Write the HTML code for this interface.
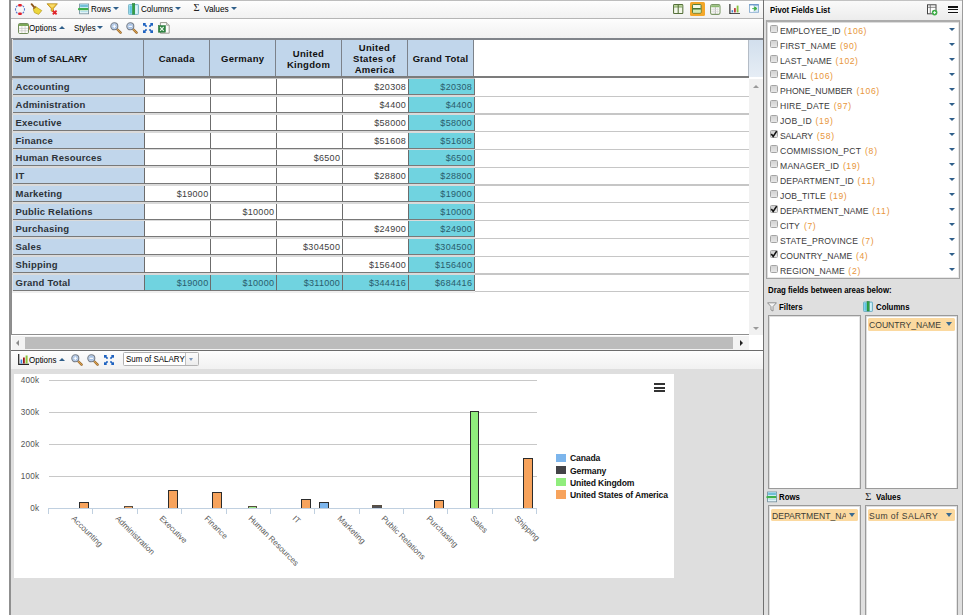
<!DOCTYPE html>
<html><head><meta charset="utf-8"><title>Pivot</title>
<style>
html,body{margin:0;padding:0;}
body{width:973px;height:615px;position:relative;overflow:hidden;background:#fff;font-family:"Liberation Sans",sans-serif;font-size:9px;color:#000;}
.a{position:absolute;}
.tb{position:absolute;left:11px;width:752px;background:linear-gradient(#fefefe 0,#fafafa 25%,#f1f1f1 100%);}
.t{position:absolute;font-size:9px;color:#000;white-space:nowrap;line-height:10px;transform:scaleX(.885);transform-origin:0 50%;}
.ad{position:absolute;width:0;height:0;border-left:3.2px solid transparent;border-right:3.2px solid transparent;border-top:3.6px solid #2f5f8a;}
.au{position:absolute;width:0;height:0;border-left:3.2px solid transparent;border-right:3.2px solid transparent;border-bottom:3.6px solid #2f5f8a;}
.hc{position:absolute;top:39.5px;height:37px;background:#c1d6eb;border-left:1.3px solid #7c828a;box-sizing:border-box;padding-top:1px;font-weight:bold;font-size:9.5px;display:flex;align-items:center;justify-content:center;text-align:center;line-height:11px;color:#111;letter-spacing:0.3px;}
.c{position:absolute;height:16px;box-sizing:border-box;border-left:1.3px solid #6c6c6c;border-bottom:1px solid #787878;background:#fff;font-size:9px;color:#404040;text-align:right;line-height:15px;padding-top:1px;padding-right:1.5px;letter-spacing:0.3px;}
.c.h{background:#c1d6eb;font-weight:bold;text-align:left;padding-left:2.7px;padding-top:0;line-height:15px;font-size:9.5px;color:#2c3238;border-left:none;letter-spacing:0.2px;}
.c.g{background:#70d3e0;color:#2a5c6c;}
.fl{position:absolute;left:780px;font-size:8.6px;color:#3a3a3a;white-space:nowrap;line-height:11px;}
.fl b{font-weight:normal;color:#e8963a;letter-spacing:0.45px;margin-left:1.2px;}
.cb{position:absolute;left:770px;width:7.7px;height:7.9px;box-sizing:border-box;border:1px solid #a4a4a4;background:linear-gradient(#d2d2d2,#e6e6e6);border-radius:1.5px;}
.lab{position:absolute;font-weight:bold;font-size:9px;color:#000;white-space:nowrap;line-height:10px;transform:scaleX(.87);transform-origin:0 50%;}
.box{position:absolute;background:#fff;border:1.2px solid #9a9a9a;box-sizing:border-box;box-shadow:inset 1px 1px 0 #dedede,inset -1px 0 0 #e6e6e6;}
.chip{position:absolute;background:#fbd9a0;height:12.3px;font-size:8.6px;color:#3c3c36;line-height:14.6px;border-radius:1.5px;white-space:nowrap;overflow:hidden;padding-left:1px;box-sizing:border-box;}
.yl{position:absolute;font-size:8.2px;color:#555;width:30px;text-align:right;line-height:10px;letter-spacing:0.2px;}
.xl{position:absolute;font-size:8.1px;color:#5a5a5a;white-space:nowrap;transform-origin:0 0;transform:rotate(45deg);line-height:10px;}
.lg{position:absolute;left:570px;font-size:8.6px;font-weight:bold;color:#111;white-space:nowrap;line-height:10px;letter-spacing:-0.15px;}
.ls{position:absolute;left:555.9px;width:10.1px;height:8.2px;}
</style></head><body>
<div class="a" style="left:9px;top:0;width:2px;height:615px;background:#8f8f8f;"></div>
<div class="a" style="left:11px;top:0;width:752px;height:1px;background:#bdbdbd;"></div>
<div class="tb" style="top:1px;height:17px;"></div>
<div class="a" style="left:11px;top:18px;width:752px;height:1px;background:#b5b5b5;"></div>
<div class="tb" style="top:19px;height:19px;"></div>
<div class="a" style="left:11px;top:38px;width:752px;height:1.7px;background:#80848a;"></div>
<svg class="a" style="left:14px;top:2.5px" width="12" height="13" viewBox="0 0 12 13"><path d="M3.6 2.6 A4.6 4.6 0 0 0 3.4 10.2" fill="none" stroke="#5878cc" stroke-width="1.1" stroke-dasharray="2.2 1.1"/><path d="M8.4 2.6 A4.6 4.6 0 0 1 8.6 10.2" fill="none" stroke="#5878cc" stroke-width="1.1" stroke-dasharray="2.2 1.1"/><rect x="4.1" y=".9" width="3.8" height="2.6" rx="1.1" fill="#e0202c"/><rect x="4.1" y="9.5" width="3.8" height="2.6" rx="1.1" fill="#e0202c"/></svg>
<svg class="a" style="left:30px;top:3px" width="13" height="12" viewBox="0 0 13 12"><path d="M1.6 1.2 L5 5.2" stroke="#8a5418" stroke-width="1.8" stroke-linecap="round"/><path d="M5.6 3.4 L3.2 6 L4.4 9.6 L8.6 11.4 L11.8 7.6 L8.6 5.6 Z" fill="#ecd63c" stroke="#b49a1c" stroke-width=".7"/><path d="M3.4 5.8 L6 3.8" stroke="#9a6a20" stroke-width="1.1"/></svg>
<svg class="a" style="left:46px;top:2.8px" width="13" height="13" viewBox="0 0 13 13"><path d="M1 .8 H11.4 L7.4 5.4 V9 L5.2 8 V5.4 Z" fill="#f2c234" stroke="#b08c24" stroke-width=".8"/><path d="M3 1.6 H9.4 L7 4.2 H5.4 Z" fill="#f8dc6c"/><path d="M6.8 7.6 L10.6 11.4 M10.6 7.6 L6.8 11.4" stroke="#e0242c" stroke-width="1.8"/></svg>
<svg class="a" style="left:78px;top:3px" width="12" height="12" viewBox="0 0 12 12"><rect x="1.6" y="1" width="9" height="9.8" fill="#f4fbfd" stroke="#6c8a98" stroke-width=".8"/><rect x="2" y="1.4" width="8.2" height="3" fill="#8cd8ee"/><rect x="2.4" y="2.6" width="7.4" height=".8" fill="#4c9ab4"/><rect x="0" y="5" width="10.4" height="2.3" rx=".8" fill="#3fb04c"/><rect x="2.4" y="8.4" width="7.4" height=".8" fill="#8cd0e0"/></svg>
<div class="t" style="left:91px;top:4px;">Rows</div><div class="ad" style="left:113px;top:7px"></div>
<svg class="a" style="left:128px;top:3px" width="11" height="12" viewBox="0 0 11 12"><rect x=".5" y="1.5" width="10" height="10" rx=".8" fill="#b4e6f2" stroke="#6cacc0" stroke-width=".8"/><rect x="1.6" y="2.6" width="2.2" height="8" fill="#5cc4e2"/><rect x="7.2" y="2.6" width="2.2" height="8" fill="#dcf4fa"/><rect x="4.4" y=".4" width="2.4" height="10.8" fill="#2fa244" stroke="#1e7030" stroke-width=".4"/></svg>
<div class="t" style="left:141.2px;top:4px;transform:scaleX(.9);">Columns</div><div class="ad" style="left:175.3px;top:7px"></div>
<div class="t" style="left:193.4px;top:3px;transform:none;color:#222;font-family:'Liberation Serif',serif;font-size:10.5px;">&Sigma;</div>
<div class="t" style="left:203.8px;top:4px;transform:scaleX(.92);">Values</div><div class="ad" style="left:231px;top:7px"></div>
<svg class="a" style="left:673.4px;top:3.8px" width="10.4" height="10.2" viewBox="0 0 11 11" preserveAspectRatio="none"><rect x=".6" y=".6" width="9.8" height="9.8" rx="1" fill="#f3f8ea" stroke="#55703a" stroke-width="1.1"/><rect x="1.2" y="1.2" width="8.6" height="2" fill="#b4d294"/><path d="M1 3.4 H10" stroke="#6d8c4e" stroke-width=".7"/><path d="M5.5 1 V10" stroke="#55703a" stroke-width="1.1"/></svg>
<div class="a" style="left:689.8px;top:2px;width:15.2px;height:13.5px;background:#f3a72a;border-radius:1.5px;"></div><svg class="a" style="left:692.2px;top:4.4px" width="9.6" height="9.6" viewBox="0 0 11 11" preserveAspectRatio="none"><rect x=".6" y=".6" width="9.8" height="9.8" rx=".8" fill="#f4fae8" stroke="#4e7a34" stroke-width="1.1"/><rect x="1.2" y="6.2" width="8.6" height="3.6" fill="#d4ecb4"/><path d="M1 5.5 H10" stroke="#3c6c28" stroke-width="1.7"/></svg>
<svg class="a" style="left:710.1px;top:3.5px" width="10.6" height="11" viewBox="0 0 11 11" preserveAspectRatio="none"><rect x=".6" y=".6" width="9.8" height="9.8" rx="1.6" fill="#fcfcf8" stroke="#7c9868" stroke-width="1.1"/><path d="M1.2 1.9 Q1.2 1.2 2 1.2 H9 Q9.8 1.2 9.8 1.9 V3.2 H1.2 Z" fill="#8cba70"/><path d="M5.5 3.2 V10 " stroke="#a8a8a8" stroke-width=".9"/><path d="M1.2 5.4 H9.8 M1.2 7.6 H9.8 M3.3 3.2 V10 M7.7 3.2 V10" stroke="#d8d8d8" stroke-width=".6"/></svg>
<svg class="a" style="left:728.8px;top:3.6px" width="11" height="10.6" viewBox="0 0 11 10.6"><path d="M.9 0 V9.9 H11" stroke="#1a1a1a" stroke-width="1.1" fill="none"/><rect x="2.6" y="6.2" width="1.5" height="2.2" fill="#3a82c8"/><rect x="5.1" y="4.1" width="1.6" height="4.3" fill="#b82424"/><rect x="7.7" y="1.6" width="1.8" height="6.8" fill="#86c440"/></svg>
<svg class="a" style="left:749.2px;top:4.2px" width="10" height="8.8" viewBox="0 0 10 8.8"><rect x=".5" y=".5" width="9" height="7.8" fill="#dcebf7" stroke="#8aaed0" stroke-width=".9"/><rect x=".5" y=".3" width="9" height="1.2" fill="#5f8fc8"/><rect x="1.2" y="1.6" width="3" height="6.2" fill="#fff"/><path d="M3.2 4.6 H6 M5.6 2.8 L8 4.6 L5.6 6.4 Z" fill="#3fae49" stroke="#3fae49" stroke-width=".9"/></svg>
<svg class="a" style="left:18px;top:23px" width="11" height="11" viewBox="0 0 11 11"><rect x=".5" y=".5" width="10" height="10" rx="1.2" fill="#fdfdf8" stroke="#62804a" stroke-width=".9"/><rect x="1" y="1" width="9" height="2" fill="#7ca858"/><path d="M3.9 3 V10 M7.1 3 V10 M1 5.4 H10 M1 7.8 H10" stroke="#bcbcbc" stroke-width=".6"/></svg>
<div class="t" style="left:29px;top:23px;">Options</div><div class="au" style="left:59px;top:26px"></div>
<div class="t" style="left:74px;top:23px;">Styles</div><div class="ad" style="left:97px;top:26px"></div>
<svg class="a" style="left:110.0px;top:22px" width="12" height="12" viewBox="0 0 12 12"><path d="M7.2 7.2 L10.6 10.6" stroke="#8a5a20" stroke-width="2.3" stroke-linecap="round"/><path d="M7.2 7.2 L10.6 10.6" stroke="#d8a050" stroke-width="1.3" stroke-linecap="round"/><circle cx="4.3" cy="4.3" r="3.5" fill="#c6d8ef" stroke="#767e8a" stroke-width="1.1"/><circle cx="4.3" cy="4.3" r="2.4" fill="#a4bfe3"/><path d="M2.5 4.3 H6.1 M4.3 2.5 V6.1" stroke="#fff" stroke-width="1.1"/></svg>
<svg class="a" style="left:126.0px;top:22px" width="12" height="12" viewBox="0 0 12 12"><path d="M7.2 7.2 L10.6 10.6" stroke="#8a5a20" stroke-width="2.3" stroke-linecap="round"/><path d="M7.2 7.2 L10.6 10.6" stroke="#d8a050" stroke-width="1.3" stroke-linecap="round"/><circle cx="4.3" cy="4.3" r="3.5" fill="#c6d8ef" stroke="#767e8a" stroke-width="1.1"/><circle cx="4.3" cy="4.3" r="2.4" fill="#a4bfe3"/><path d="M2.5 4.3 H6.1" stroke="#fff" stroke-width="1.2"/></svg>
<svg class="a" style="left:142.8px;top:23px" width="10" height="10" viewBox="0 0 10 10"><g fill="#1e62c0"><path d="M0 0 H3.2 L2.2 1 L4.2 3 L3 4.2 L1 2.2 L0 3.2 Z"/><path d="M0 0 H3.2 L2.2 1 L4.2 3 L3 4.2 L1 2.2 L0 3.2 Z" transform="translate(10,0) scale(-1,1)"/><path d="M0 0 H3.2 L2.2 1 L4.2 3 L3 4.2 L1 2.2 L0 3.2 Z" transform="translate(0,10) scale(1,-1)"/><path d="M0 0 H3.2 L2.2 1 L4.2 3 L3 4.2 L1 2.2 L0 3.2 Z" transform="translate(10,10) scale(-1,-1)"/></g></svg>
<svg class="a" style="left:157.8px;top:22px" width="12" height="12" viewBox="0 0 12 12"><path d="M2.4 .6 H8.6 L11.2 3.2 V11.2 H2.4 Z" fill="#fcfcfa" stroke="#8e8e86" stroke-width=".9"/><path d="M8.6 .6 V3.2 H11.2" fill="#e4e4dc" stroke="#8e8e86" stroke-width=".7"/><rect x=".4" y="3.6" width="7" height="6.6" fill="#2e8540" stroke="#1f6a30" stroke-width=".5"/><path d="M2.1 5 L5.7 8.8 M5.7 5 L2.1 8.8" stroke="#e8f4e8" stroke-width="1.1"/></svg>
<div class="a" style="left:11px;top:39px;width:1.3px;height:296px;background:#8c8c8c;"></div>
<div class="a" style="left:12.3px;top:39.2px;width:0.8px;height:253px;background:#e4e4e4;"></div>
<div class="hc" style="left:12.9px;width:130.2px;justify-content:flex-start;padding-left:1.7px;border-left:none;letter-spacing:-0.06px;">Sum of SALARY</div>
<div class="hc" style="left:143.1px;width:66.2px;">Canada</div>
<div class="hc" style="left:209.3px;width:65.9px;">Germany</div>
<div class="hc" style="left:275.2px;width:65.7px;">United<br>Kingdom</div>
<div class="hc" style="left:340.9px;width:66.1px;">United<br>States of<br>America</div>
<div class="hc" style="left:407.0px;width:66.2px;">Grand Total</div>
<div class="a" style="left:473.2px;top:39.5px;width:1.2px;height:37px;background:#7c828a;"></div>
<div class="a" style="left:748.3px;top:39.5px;width:14.7px;height:37px;background:linear-gradient(#d2dfed,#e6edf5);border-left:1px solid #b4bcc6;box-sizing:border-box;"></div>
<div class="a" style="left:12px;top:76.4px;width:737px;height:1.4px;background:#7c7c7c;"></div>
<div class="a" style="left:12px;top:77.8px;width:463px;height:1.8px;background:#c4c4c4;"></div>
<div class="a" style="left:12.3px;top:95.25px;width:462.6px;height:1.78px;background:#dadada;"></div>
<div class="c h" style="left:12.9px;top:79.25px;width:130.9px;">Accounting</div>
<div class="c" style="left:143.8px;top:79.25px;width:66.2px;"></div>
<div class="c" style="left:210.0px;top:79.25px;width:65.8px;"></div>
<div class="c" style="left:275.8px;top:79.25px;width:65.9px;"></div>
<div class="c" style="left:341.7px;top:79.25px;width:65.9px;">$20308</div>
<div class="c g" style="left:407.6px;top:79.25px;width:66.1px;">$20308</div>
<div class="a" style="left:473.7px;top:79.25px;width:1.2px;height:16px;background:#707070;"></div>
<div class="a" style="left:475px;top:95.55px;width:274px;height:1.2px;background:#c6c6c6;"></div>
<div class="a" style="left:12.3px;top:113.03px;width:462.6px;height:1.78px;background:#dadada;"></div>
<div class="c h" style="left:12.9px;top:97.03px;width:130.9px;">Administration</div>
<div class="c" style="left:143.8px;top:97.03px;width:66.2px;"></div>
<div class="c" style="left:210.0px;top:97.03px;width:65.8px;"></div>
<div class="c" style="left:275.8px;top:97.03px;width:65.9px;"></div>
<div class="c" style="left:341.7px;top:97.03px;width:65.9px;">$4400</div>
<div class="c g" style="left:407.6px;top:97.03px;width:66.1px;">$4400</div>
<div class="a" style="left:473.7px;top:97.03px;width:1.2px;height:16px;background:#707070;"></div>
<div class="a" style="left:475px;top:113.33px;width:274px;height:1.2px;background:#c6c6c6;"></div>
<div class="a" style="left:12.3px;top:130.81px;width:462.6px;height:1.78px;background:#dadada;"></div>
<div class="c h" style="left:12.9px;top:114.81px;width:130.9px;">Executive</div>
<div class="c" style="left:143.8px;top:114.81px;width:66.2px;"></div>
<div class="c" style="left:210.0px;top:114.81px;width:65.8px;"></div>
<div class="c" style="left:275.8px;top:114.81px;width:65.9px;"></div>
<div class="c" style="left:341.7px;top:114.81px;width:65.9px;">$58000</div>
<div class="c g" style="left:407.6px;top:114.81px;width:66.1px;">$58000</div>
<div class="a" style="left:473.7px;top:114.81px;width:1.2px;height:16px;background:#707070;"></div>
<div class="a" style="left:475px;top:131.11px;width:274px;height:1.2px;background:#c6c6c6;"></div>
<div class="a" style="left:12.3px;top:148.59px;width:462.6px;height:1.78px;background:#dadada;"></div>
<div class="c h" style="left:12.9px;top:132.59px;width:130.9px;">Finance</div>
<div class="c" style="left:143.8px;top:132.59px;width:66.2px;"></div>
<div class="c" style="left:210.0px;top:132.59px;width:65.8px;"></div>
<div class="c" style="left:275.8px;top:132.59px;width:65.9px;"></div>
<div class="c" style="left:341.7px;top:132.59px;width:65.9px;">$51608</div>
<div class="c g" style="left:407.6px;top:132.59px;width:66.1px;">$51608</div>
<div class="a" style="left:473.7px;top:132.59px;width:1.2px;height:16px;background:#707070;"></div>
<div class="a" style="left:475px;top:148.89px;width:274px;height:1.2px;background:#c6c6c6;"></div>
<div class="a" style="left:12.3px;top:166.37px;width:462.6px;height:1.78px;background:#dadada;"></div>
<div class="c h" style="left:12.9px;top:150.37px;width:130.9px;">Human Resources</div>
<div class="c" style="left:143.8px;top:150.37px;width:66.2px;"></div>
<div class="c" style="left:210.0px;top:150.37px;width:65.8px;"></div>
<div class="c" style="left:275.8px;top:150.37px;width:65.9px;">$6500</div>
<div class="c" style="left:341.7px;top:150.37px;width:65.9px;"></div>
<div class="c g" style="left:407.6px;top:150.37px;width:66.1px;">$6500</div>
<div class="a" style="left:473.7px;top:150.37px;width:1.2px;height:16px;background:#707070;"></div>
<div class="a" style="left:475px;top:166.67px;width:274px;height:1.2px;background:#c6c6c6;"></div>
<div class="a" style="left:12.3px;top:184.15px;width:462.6px;height:1.78px;background:#dadada;"></div>
<div class="c h" style="left:12.9px;top:168.15px;width:130.9px;">IT</div>
<div class="c" style="left:143.8px;top:168.15px;width:66.2px;"></div>
<div class="c" style="left:210.0px;top:168.15px;width:65.8px;"></div>
<div class="c" style="left:275.8px;top:168.15px;width:65.9px;"></div>
<div class="c" style="left:341.7px;top:168.15px;width:65.9px;">$28800</div>
<div class="c g" style="left:407.6px;top:168.15px;width:66.1px;">$28800</div>
<div class="a" style="left:473.7px;top:168.15px;width:1.2px;height:16px;background:#707070;"></div>
<div class="a" style="left:475px;top:184.45px;width:274px;height:1.2px;background:#c6c6c6;"></div>
<div class="a" style="left:12.3px;top:201.93px;width:462.6px;height:1.78px;background:#dadada;"></div>
<div class="c h" style="left:12.9px;top:185.93px;width:130.9px;">Marketing</div>
<div class="c" style="left:143.8px;top:185.93px;width:66.2px;">$19000</div>
<div class="c" style="left:210.0px;top:185.93px;width:65.8px;"></div>
<div class="c" style="left:275.8px;top:185.93px;width:65.9px;"></div>
<div class="c" style="left:341.7px;top:185.93px;width:65.9px;"></div>
<div class="c g" style="left:407.6px;top:185.93px;width:66.1px;">$19000</div>
<div class="a" style="left:473.7px;top:185.93px;width:1.2px;height:16px;background:#707070;"></div>
<div class="a" style="left:475px;top:202.23px;width:274px;height:1.2px;background:#c6c6c6;"></div>
<div class="a" style="left:12.3px;top:219.71px;width:462.6px;height:1.78px;background:#dadada;"></div>
<div class="c h" style="left:12.9px;top:203.71px;width:130.9px;">Public Relations</div>
<div class="c" style="left:143.8px;top:203.71px;width:66.2px;"></div>
<div class="c" style="left:210.0px;top:203.71px;width:65.8px;">$10000</div>
<div class="c" style="left:275.8px;top:203.71px;width:65.9px;"></div>
<div class="c" style="left:341.7px;top:203.71px;width:65.9px;"></div>
<div class="c g" style="left:407.6px;top:203.71px;width:66.1px;">$10000</div>
<div class="a" style="left:473.7px;top:203.71px;width:1.2px;height:16px;background:#707070;"></div>
<div class="a" style="left:475px;top:220.01px;width:274px;height:1.2px;background:#c6c6c6;"></div>
<div class="a" style="left:12.3px;top:237.49px;width:462.6px;height:1.78px;background:#dadada;"></div>
<div class="c h" style="left:12.9px;top:221.49px;width:130.9px;">Purchasing</div>
<div class="c" style="left:143.8px;top:221.49px;width:66.2px;"></div>
<div class="c" style="left:210.0px;top:221.49px;width:65.8px;"></div>
<div class="c" style="left:275.8px;top:221.49px;width:65.9px;"></div>
<div class="c" style="left:341.7px;top:221.49px;width:65.9px;">$24900</div>
<div class="c g" style="left:407.6px;top:221.49px;width:66.1px;">$24900</div>
<div class="a" style="left:473.7px;top:221.49px;width:1.2px;height:16px;background:#707070;"></div>
<div class="a" style="left:475px;top:237.79px;width:274px;height:1.2px;background:#c6c6c6;"></div>
<div class="a" style="left:12.3px;top:255.27px;width:462.6px;height:1.78px;background:#dadada;"></div>
<div class="c h" style="left:12.9px;top:239.27px;width:130.9px;">Sales</div>
<div class="c" style="left:143.8px;top:239.27px;width:66.2px;"></div>
<div class="c" style="left:210.0px;top:239.27px;width:65.8px;"></div>
<div class="c" style="left:275.8px;top:239.27px;width:65.9px;">$304500</div>
<div class="c" style="left:341.7px;top:239.27px;width:65.9px;"></div>
<div class="c g" style="left:407.6px;top:239.27px;width:66.1px;">$304500</div>
<div class="a" style="left:473.7px;top:239.27px;width:1.2px;height:16px;background:#707070;"></div>
<div class="a" style="left:475px;top:255.57px;width:274px;height:1.2px;background:#c6c6c6;"></div>
<div class="a" style="left:12.3px;top:273.05px;width:462.6px;height:1.78px;background:#dadada;"></div>
<div class="c h" style="left:12.9px;top:257.05px;width:130.9px;">Shipping</div>
<div class="c" style="left:143.8px;top:257.05px;width:66.2px;"></div>
<div class="c" style="left:210.0px;top:257.05px;width:65.8px;"></div>
<div class="c" style="left:275.8px;top:257.05px;width:65.9px;"></div>
<div class="c" style="left:341.7px;top:257.05px;width:65.9px;">$156400</div>
<div class="c g" style="left:407.6px;top:257.05px;width:66.1px;">$156400</div>
<div class="a" style="left:473.7px;top:257.05px;width:1.2px;height:16px;background:#707070;"></div>
<div class="a" style="left:475px;top:273.35px;width:274px;height:1.2px;background:#c6c6c6;"></div>
<div class="a" style="left:12.3px;top:290.83px;width:462.6px;height:1.78px;background:#efefef;"></div>
<div class="c h" style="left:12.9px;top:274.83px;width:130.9px;">Grand Total</div>
<div class="c g" style="left:143.8px;top:274.83px;width:66.2px;">$19000</div>
<div class="c g" style="left:210.0px;top:274.83px;width:65.8px;">$10000</div>
<div class="c g" style="left:275.8px;top:274.83px;width:65.9px;">$311000</div>
<div class="c g" style="left:341.7px;top:274.83px;width:65.9px;">$344416</div>
<div class="c g" style="left:407.6px;top:274.83px;width:66.1px;">$684416</div>
<div class="a" style="left:473.7px;top:274.83px;width:1.2px;height:16px;background:#707070;"></div>
<div class="a" style="left:475px;top:291.13px;width:274px;height:1.2px;background:#c6c6c6;"></div>
<div class="a" style="left:749px;top:79px;width:14px;height:256px;background:#f1f1f1;"></div>
<div class="a" style="left:753px;top:85px;width:0;height:0;border-left:3px solid transparent;border-right:3px solid transparent;border-bottom:3.5px solid #9a9a9a;"></div>
<div class="a" style="left:753px;top:327px;width:0;height:0;border-left:3px solid transparent;border-right:3px solid transparent;border-top:3.5px solid #9a9a9a;"></div>
<div class="a" style="left:11px;top:334px;width:738px;height:1px;background:#8f8f8f;"></div>
<div class="a" style="left:12px;top:335.6px;width:737px;height:14px;background:#f3f3f3;"></div>
<div class="a" style="left:25px;top:337.3px;width:707.7px;height:11.4px;background:#bcbcbc;"></div>
<div class="a" style="left:16px;top:340px;width:0;height:0;border-top:3px solid transparent;border-bottom:3px solid transparent;border-right:3.5px solid #8a8a8a;"></div>
<div class="a" style="left:740px;top:340px;width:0;height:0;border-top:3px solid transparent;border-bottom:3px solid transparent;border-left:3.5px solid #222;"></div>
<div class="a" style="left:749px;top:336px;width:14px;height:13px;background:#fff;"></div>
<div class="a" style="left:11px;top:349.7px;width:752px;height:1.4px;background:#6c6c6c;"></div>
<div class="tb" style="top:351px;height:18px;"></div>
<svg class="a" style="left:18px;top:354px" width="11" height="11" viewBox="0 0 11 11"><path d="M.7 0 V10.3 H11" stroke="#222" stroke-width="1.2" fill="none"/><rect x="2.6" y="5.5" width="1.6" height="4" fill="#3a8ee0"/><rect x="5" y="3.5" width="1.8" height="6" fill="#a01818"/><rect x="7.6" y="1.5" width="2" height="8" fill="#8cc63f"/></svg>
<div class="t" style="left:29px;top:355px;">Options</div><div class="au" style="left:59px;top:358px"></div>
<svg class="a" style="left:71.0px;top:354px" width="12" height="12" viewBox="0 0 12 12"><path d="M7.2 7.2 L10.6 10.6" stroke="#8a5a20" stroke-width="2.3" stroke-linecap="round"/><path d="M7.2 7.2 L10.6 10.6" stroke="#d8a050" stroke-width="1.3" stroke-linecap="round"/><circle cx="4.3" cy="4.3" r="3.5" fill="#c6d8ef" stroke="#767e8a" stroke-width="1.1"/><circle cx="4.3" cy="4.3" r="2.4" fill="#a4bfe3"/><path d="M2.5 4.3 H6.1 M4.3 2.5 V6.1" stroke="#fff" stroke-width="1.1"/></svg>
<svg class="a" style="left:87.0px;top:354px" width="12" height="12" viewBox="0 0 12 12"><path d="M7.2 7.2 L10.6 10.6" stroke="#8a5a20" stroke-width="2.3" stroke-linecap="round"/><path d="M7.2 7.2 L10.6 10.6" stroke="#d8a050" stroke-width="1.3" stroke-linecap="round"/><circle cx="4.3" cy="4.3" r="3.5" fill="#c6d8ef" stroke="#767e8a" stroke-width="1.1"/><circle cx="4.3" cy="4.3" r="2.4" fill="#a4bfe3"/><path d="M2.5 4.3 H6.1" stroke="#fff" stroke-width="1.2"/></svg>
<svg class="a" style="left:103.5px;top:355px" width="10" height="10" viewBox="0 0 10 10"><g fill="#1e62c0"><path d="M0 0 H3.2 L2.2 1 L4.2 3 L3 4.2 L1 2.2 L0 3.2 Z"/><path d="M0 0 H3.2 L2.2 1 L4.2 3 L3 4.2 L1 2.2 L0 3.2 Z" transform="translate(10,0) scale(-1,1)"/><path d="M0 0 H3.2 L2.2 1 L4.2 3 L3 4.2 L1 2.2 L0 3.2 Z" transform="translate(0,10) scale(1,-1)"/><path d="M0 0 H3.2 L2.2 1 L4.2 3 L3 4.2 L1 2.2 L0 3.2 Z" transform="translate(10,10) scale(-1,-1)"/></g></svg>
<div class="a" style="left:123px;top:352.4px;width:75.6px;height:13.6px;background:#fff;border:1px solid #b2b2b2;box-sizing:border-box;border-radius:1.5px;"></div>
<div class="a" style="left:185.4px;top:353.4px;width:12.2px;height:11.6px;background:linear-gradient(#fdfdfd,#ececec);border-left:1px solid #c0c0c0;box-sizing:border-box;"></div>
<div class="a" style="left:189.4px;top:358.2px;width:0;height:0;border-left:2.6px solid transparent;border-right:2.6px solid transparent;border-top:3px solid #7c98bc;"></div>
<div class="t" style="left:126px;top:354px;">Sum of SALARY</div>
<div class="a" style="left:11px;top:369px;width:752px;height:246px;background:#dedede;"></div>
<div class="a" style="left:14px;top:374px;width:660px;height:204px;background:#fff;"></div>
<div class="a" style="left:49.0px;top:380px;width:488.0px;height:1px;background:#c8c8c8;"></div>
<div class="yl" style="left:9.3px;top:376.2px;">400k</div>
<div class="a" style="left:49.0px;top:412px;width:488.0px;height:1px;background:#c8c8c8;"></div>
<div class="yl" style="left:9.3px;top:408.2px;">300k</div>
<div class="a" style="left:49.0px;top:444px;width:488.0px;height:1px;background:#c8c8c8;"></div>
<div class="yl" style="left:9.3px;top:440.2px;">200k</div>
<div class="a" style="left:49.0px;top:476px;width:488.0px;height:1px;background:#c8c8c8;"></div>
<div class="yl" style="left:9.3px;top:472.2px;">100k</div>
<div class="a" style="left:48.3px;top:508px;width:488.6px;height:1px;background:#c0d0e0;"></div>
<div class="yl" style="left:9.3px;top:504.2px;">0k</div>
<div class="a" style="left:47.9px;top:508px;width:1px;height:6.3px;background:#c0d0e0;"></div>
<div class="a" style="left:92.3px;top:508px;width:1px;height:6.3px;background:#c0d0e0;"></div>
<div class="a" style="left:136.7px;top:508px;width:1px;height:6.3px;background:#c0d0e0;"></div>
<div class="a" style="left:181.1px;top:508px;width:1px;height:6.3px;background:#c0d0e0;"></div>
<div class="a" style="left:225.5px;top:508px;width:1px;height:6.3px;background:#c0d0e0;"></div>
<div class="a" style="left:269.9px;top:508px;width:1px;height:6.3px;background:#c0d0e0;"></div>
<div class="a" style="left:314.2px;top:508px;width:1px;height:6.3px;background:#c0d0e0;"></div>
<div class="a" style="left:358.6px;top:508px;width:1px;height:6.3px;background:#c0d0e0;"></div>
<div class="a" style="left:403.0px;top:508px;width:1px;height:6.3px;background:#c0d0e0;"></div>
<div class="a" style="left:447.4px;top:508px;width:1px;height:6.3px;background:#c0d0e0;"></div>
<div class="a" style="left:491.8px;top:508px;width:1px;height:6.3px;background:#c0d0e0;"></div>
<div class="a" style="left:536.2px;top:508px;width:1px;height:6.3px;background:#c0d0e0;"></div>
<div class="a" style="left:79.1px;top:501.9px;width:9.7px;height:6.5px;background:#f7a35c;border:1px solid #2c2c2c;border-bottom:none;box-sizing:border-box;"></div>
<div class="a" style="left:123.5px;top:506.3px;width:9.6px;height:1.9px;background:#f7a35c;border:0.6px solid #4a4030;border-bottom:none;box-sizing:border-box;opacity:.92;"></div>
<div class="a" style="left:167.9px;top:489.8px;width:9.7px;height:18.6px;background:#f7a35c;border:1px solid #2c2c2c;border-bottom:none;box-sizing:border-box;"></div>
<div class="a" style="left:212.3px;top:491.9px;width:9.7px;height:16.5px;background:#f7a35c;border:1px solid #2c2c2c;border-bottom:none;box-sizing:border-box;"></div>
<div class="a" style="left:247.9px;top:506.1px;width:9.6px;height:2.1px;background:#90ed7d;border:0.6px solid #4a4030;border-bottom:none;box-sizing:border-box;opacity:.92;"></div>
<div class="a" style="left:301.1px;top:499.2px;width:9.7px;height:9.2px;background:#f7a35c;border:1px solid #2c2c2c;border-bottom:none;box-sizing:border-box;"></div>
<div class="a" style="left:318.9px;top:502.3px;width:9.7px;height:6.1px;background:#7cb5ec;border:1px solid #2c2c2c;border-bottom:none;box-sizing:border-box;"></div>
<div class="a" style="left:372.2px;top:505.0px;width:9.6px;height:3.2px;background:#434348;border:0.6px solid #4a4030;border-bottom:none;box-sizing:border-box;opacity:.92;"></div>
<div class="a" style="left:434.3px;top:500.4px;width:9.7px;height:8.0px;background:#f7a35c;border:1px solid #2c2c2c;border-bottom:none;box-sizing:border-box;"></div>
<div class="a" style="left:469.8px;top:411.0px;width:9.7px;height:97.4px;background:#90ed7d;border:1px solid #2c2c2c;border-bottom:none;box-sizing:border-box;"></div>
<div class="a" style="left:523.0px;top:458.4px;width:9.7px;height:50.0px;background:#f7a35c;border:1px solid #2c2c2c;border-bottom:none;box-sizing:border-box;"></div>
<div class="xl" style="left:75.5px;top:514.2px;">Accounting</div>
<div class="xl" style="left:119.9px;top:514.2px;">Administration</div>
<div class="xl" style="left:164.3px;top:514.2px;">Executive</div>
<div class="xl" style="left:208.7px;top:514.2px;">Finance</div>
<div class="xl" style="left:253.1px;top:514.2px;">Human Resources</div>
<div class="xl" style="left:297.4px;top:514.2px;">IT</div>
<div class="xl" style="left:341.8px;top:514.2px;">Marketing</div>
<div class="xl" style="left:386.2px;top:514.2px;">Public Relations</div>
<div class="xl" style="left:430.6px;top:514.2px;">Purchasing</div>
<div class="xl" style="left:475.0px;top:514.2px;">Sales</div>
<div class="xl" style="left:519.4px;top:514.2px;">Shipping</div>
<div class="ls" style="top:453.8px;background:#7cb5ec;"></div>
<div class="lg" style="top:453.3px;">Canada</div>
<div class="ls" style="top:466.0px;background:#434348;"></div>
<div class="lg" style="top:465.5px;">Germany</div>
<div class="ls" style="top:478.2px;background:#90ed7d;"></div>
<div class="lg" style="top:477.7px;">United Kingdom</div>
<div class="ls" style="top:490.4px;background:#f7a35c;"></div>
<div class="lg" style="top:489.9px;">United States of America</div>
<div class="a" style="left:654px;top:383.3px;width:11px;height:2px;background:#333;"></div><div class="a" style="left:654px;top:386.8px;width:11px;height:2px;background:#333;"></div><div class="a" style="left:654px;top:390.3px;width:11px;height:2px;background:#333;"></div>
<div class="a" style="left:762.8px;top:0;width:1.4px;height:615px;background:#707070;"></div>
<div class="a" style="left:764.2px;top:0;width:197.4px;height:615px;background:#dfdfdf;"></div>
<div class="a" style="left:764.2px;top:0;width:197.4px;height:20.4px;background:linear-gradient(#fafafa,#ececec);border-top:1px solid #c2c2c2;box-sizing:border-box;"></div>
<div class="a" style="left:961.6px;top:0;width:1.3px;height:615px;background:#9c9c9c;"></div>
<div class="lab" style="left:770px;top:5px;">Pivot Fields List</div>
<svg class="a" style="left:926px;top:4px" width="12" height="12" viewBox="0 0 12 12"><rect x="1.5" y=".8" width="8.5" height="9" fill="#fff" stroke="#444" stroke-width="1"/><path d="M1.5 3.3 H10 M4.3 1 V9.5" stroke="#666" stroke-width=".8"/><circle cx="8.6" cy="8.6" r="2.8" fill="#3fae49"/><path d="M7.2 8.6 H10 M8.6 7.2 V10" stroke="#fff" stroke-width=".9"/></svg>
<div class="a" style="left:947.6px;top:5px;width:11px;height:9px;background:#f8f8f8;border-radius:1px;"></div><div class="a" style="left:948.4px;top:6.1px;width:9.7px;height:1.6px;background:#111;"></div><div class="a" style="left:948.4px;top:8.9px;width:9.7px;height:1.5px;background:#111;"></div><div class="a" style="left:948.4px;top:11.6px;width:9.7px;height:1.4px;background:#111;"></div>
<div class="box" style="left:766px;top:20.4px;width:194px;height:258.8px;border:1.5px solid #a4a4a4;border-top:2px solid #acacac;box-shadow:inset 1px 1px 0 #dcdcdc,inset -1px -1px 0 #e8e8e8;"></div>
<div class="cb" style="top:25.0px;"></div>
<div class="fl" style="top:25.6px;letter-spacing:-0.02px;">EMPLOYEE_ID</div>
<div class="fl" style="left:844.1px;top:25.6px;letter-spacing:0.58px;color:#e8963a;">(106)</div>
<div class="ad" style="left:948.5px;top:28.2px;border-left-width:3.3px;border-right-width:3.3px;border-top-width:3.6px;"></div>
<div class="cb" style="top:40.0px;"></div>
<div class="fl" style="top:40.6px;letter-spacing:0.16px;">FIRST_NAME</div>
<div class="fl" style="left:840.0px;top:40.6px;letter-spacing:0.65px;color:#e8963a;">(90)</div>
<div class="ad" style="left:948.5px;top:43.2px;border-left-width:3.3px;border-right-width:3.3px;border-top-width:3.6px;"></div>
<div class="cb" style="top:55.0px;"></div>
<div class="fl" style="top:55.6px;letter-spacing:0.09px;">LAST_NAME</div>
<div class="fl" style="left:835.6px;top:55.6px;letter-spacing:0.58px;color:#e8963a;">(102)</div>
<div class="ad" style="left:948.5px;top:58.2px;border-left-width:3.3px;border-right-width:3.3px;border-top-width:3.6px;"></div>
<div class="cb" style="top:70.0px;"></div>
<div class="fl" style="top:70.6px;letter-spacing:0.11px;">EMAIL</div>
<div class="fl" style="left:810.5px;top:70.6px;letter-spacing:0.58px;color:#e8963a;">(106)</div>
<div class="ad" style="left:948.5px;top:73.2px;border-left-width:3.3px;border-right-width:3.3px;border-top-width:3.6px;"></div>
<div class="cb" style="top:85.0px;"></div>
<div class="fl" style="top:85.6px;letter-spacing:0.00px;">PHONE_NUMBER</div>
<div class="fl" style="left:856.6px;top:85.6px;letter-spacing:0.63px;color:#e8963a;">(106)</div>
<div class="ad" style="left:948.5px;top:88.2px;border-left-width:3.3px;border-right-width:3.3px;border-top-width:3.6px;"></div>
<div class="cb" style="top:100.0px;"></div>
<div class="fl" style="top:100.6px;letter-spacing:0.26px;">HIRE_DATE</div>
<div class="fl" style="left:833.7px;top:100.6px;letter-spacing:0.72px;color:#e8963a;">(97)</div>
<div class="ad" style="left:948.5px;top:103.2px;border-left-width:3.3px;border-right-width:3.3px;border-top-width:3.6px;"></div>
<div class="cb" style="top:115.0px;"></div>
<div class="fl" style="top:115.6px;letter-spacing:0.31px;">JOB_ID</div>
<div class="fl" style="left:815.6px;top:115.6px;letter-spacing:0.65px;color:#e8963a;">(19)</div>
<div class="ad" style="left:948.5px;top:118.2px;border-left-width:3.3px;border-right-width:3.3px;border-top-width:3.6px;"></div>
<div class="cb" style="top:130.0px;"></div>
<svg class="a" style="left:770px;top:129.0px" width="9" height="9" viewBox="0 0 9 9"><path d="M1.3 4.9 L3.2 7.4 L6.7 2.1" stroke="#111" stroke-width="1.6" fill="none"/></svg>
<div class="fl" style="top:130.6px;letter-spacing:-0.14px;">SALARY</div>
<div class="fl" style="left:816.8px;top:130.6px;letter-spacing:0.65px;color:#e8963a;">(58)</div>
<div class="ad" style="left:948.5px;top:133.2px;border-left-width:3.3px;border-right-width:3.3px;border-top-width:3.6px;"></div>
<div class="cb" style="top:145.0px;"></div>
<div class="fl" style="top:145.6px;letter-spacing:0.20px;">COMMISSION_PCT</div>
<div class="fl" style="left:864.9px;top:145.6px;letter-spacing:0.87px;color:#e8963a;">(8)</div>
<div class="ad" style="left:948.5px;top:148.2px;border-left-width:3.3px;border-right-width:3.3px;border-top-width:3.6px;"></div>
<div class="cb" style="top:160.0px;"></div>
<div class="fl" style="top:160.6px;letter-spacing:0.24px;">MANAGER_ID</div>
<div class="fl" style="left:842.9px;top:160.6px;letter-spacing:0.58px;color:#e8963a;">(19)</div>
<div class="ad" style="left:948.5px;top:163.2px;border-left-width:3.3px;border-right-width:3.3px;border-top-width:3.6px;"></div>
<div class="cb" style="top:175.0px;"></div>
<div class="fl" style="top:175.6px;letter-spacing:0.16px;">DEPARTMENT_ID</div>
<div class="fl" style="left:857.6px;top:175.6px;letter-spacing:0.90px;color:#e8963a;">(11)</div>
<div class="ad" style="left:948.5px;top:178.2px;border-left-width:3.3px;border-right-width:3.3px;border-top-width:3.6px;"></div>
<div class="cb" style="top:190.0px;"></div>
<div class="fl" style="top:190.6px;letter-spacing:0.10px;">JOB_TITLE</div>
<div class="fl" style="left:829.5px;top:190.6px;letter-spacing:0.65px;color:#e8963a;">(19)</div>
<div class="ad" style="left:948.5px;top:193.2px;border-left-width:3.3px;border-right-width:3.3px;border-top-width:3.6px;"></div>
<div class="cb" style="top:205.0px;"></div>
<svg class="a" style="left:770px;top:204.0px" width="9" height="9" viewBox="0 0 9 9"><path d="M1.3 4.9 L3.2 7.4 L6.7 2.1" stroke="#111" stroke-width="1.6" fill="none"/></svg>
<div class="fl" style="top:205.6px;letter-spacing:0.03px;">DEPARTMENT_NAME</div>
<div class="fl" style="left:872.2px;top:205.6px;letter-spacing:0.90px;color:#e8963a;">(11)</div>
<div class="ad" style="left:948.5px;top:208.2px;border-left-width:3.3px;border-right-width:3.3px;border-top-width:3.6px;"></div>
<div class="cb" style="top:220.0px;"></div>
<div class="fl" style="top:220.6px;letter-spacing:0.04px;">CITY</div>
<div class="fl" style="left:803.9px;top:220.6px;letter-spacing:0.67px;color:#e8963a;">(7)</div>
<div class="ad" style="left:948.5px;top:223.2px;border-left-width:3.3px;border-right-width:3.3px;border-top-width:3.6px;"></div>
<div class="cb" style="top:235.0px;"></div>
<div class="fl" style="top:235.6px;letter-spacing:0.14px;">STATE_PROVINCE</div>
<div class="fl" style="left:861.7px;top:235.6px;letter-spacing:0.77px;color:#e8963a;">(7)</div>
<div class="ad" style="left:948.5px;top:238.2px;border-left-width:3.3px;border-right-width:3.3px;border-top-width:3.6px;"></div>
<div class="cb" style="top:250.0px;"></div>
<svg class="a" style="left:770px;top:249.0px" width="9" height="9" viewBox="0 0 9 9"><path d="M1.3 4.9 L3.2 7.4 L6.7 2.1" stroke="#111" stroke-width="1.6" fill="none"/></svg>
<div class="fl" style="top:250.6px;letter-spacing:0.02px;">COUNTRY_NAME</div>
<div class="fl" style="left:855.9px;top:250.6px;letter-spacing:0.67px;color:#e8963a;">(4)</div>
<div class="ad" style="left:948.5px;top:253.2px;border-left-width:3.3px;border-right-width:3.3px;border-top-width:3.6px;"></div>
<div class="cb" style="top:265.0px;"></div>
<div class="fl" style="top:265.6px;letter-spacing:0.12px;">REGION_NAME</div>
<div class="fl" style="left:848.3px;top:265.6px;letter-spacing:0.77px;color:#e8963a;">(2)</div>
<div class="ad" style="left:948.5px;top:268.2px;border-left-width:3.3px;border-right-width:3.3px;border-top-width:3.6px;"></div>
<div class="lab" style="left:768px;top:285px;">Drag fields between areas below:</div>
<svg class="a" style="left:767px;top:302px" width="10" height="10" viewBox="0 0 10 10"><path d="M.6 .8 H9.4 L6 4.6 V9 L4 8 V4.6 Z" fill="#f4f4f4" stroke="#888" stroke-width=".9"/></svg>
<div class="lab" style="left:779px;top:301.8px;">Filters</div>
<svg class="a" style="left:863px;top:301px" width="10" height="11" viewBox="0 0 10 11"><rect x=".5" y="1" width="9" height="9.5" rx=".8" fill="#a4e0f0" stroke="#62a6bc" stroke-width=".8"/><rect x="1.5" y="2" width="2" height="7.6" fill="#5cc4e2"/><rect x="6.6" y="2" width="2" height="7.6" fill="#d4f2fa"/><rect x="4" y=".4" width="2.2" height="9.6" fill="#2fa244" stroke="#1e7030" stroke-width=".4"/></svg>
<div class="lab" style="left:876px;top:301.8px;">Columns</div>
<div class="box" style="left:768px;top:315px;width:93px;height:174px;"></div>
<div class="box" style="left:865px;top:315px;width:93px;height:174px;"></div>
<div class="chip" style="left:868px;top:318.3px;width:86.6px;">COUNTRY_NAME</div><div class="ad" style="left:945.9px;top:322.2px;border-width:4px 3.2px 0 3.2px;border-top-color:#3a6a90;"></div>
<svg class="a" style="left:765.6px;top:491.4px" width="12" height="12" viewBox="0 0 12 12"><rect x="1.6" y="1" width="9" height="9.8" fill="#f4fbfd" stroke="#6c8a98" stroke-width=".8"/><rect x="2" y="1.4" width="8.2" height="3" fill="#8cd8ee"/><rect x="2.4" y="2.6" width="7.4" height=".8" fill="#4c9ab4"/><rect x=".4" y="5" width="10" height="2.3" rx=".8" fill="#3fb04c"/><rect x="2.4" y="8.4" width="7.4" height=".8" fill="#8cd0e0"/></svg>
<div class="lab" style="left:779px;top:492px;">Rows</div>
<div class="t" style="left:865.3px;top:491.5px;transform:none;color:#2a2a2a;font-family:'Liberation Serif',serif;font-size:10.5px;">&Sigma;</div>
<div class="lab" style="left:876px;top:492px;">Values</div>
<div class="box" style="left:768px;top:505px;width:93px;height:120px;"></div>
<div class="box" style="left:865px;top:505px;width:93px;height:120px;"></div>
<div class="chip" style="left:771px;top:508.7px;width:86.6px;"><span style="display:inline-block;width:74.3px;overflow:hidden;vertical-align:top;">DEPARTMENT_NAME</span></div><div class="ad" style="left:848.9px;top:512.6px;border-width:4px 3.2px 0 3.2px;border-top-color:#3a6a90;"></div>
<div class="chip" style="left:868px;top:508.7px;width:86.6px;letter-spacing:0.45px;">Sum of SALARY</div><div class="ad" style="left:945.9px;top:512.6px;border-width:4px 3.2px 0 3.2px;border-top-color:#3a6a90;"></div>
</body></html>
